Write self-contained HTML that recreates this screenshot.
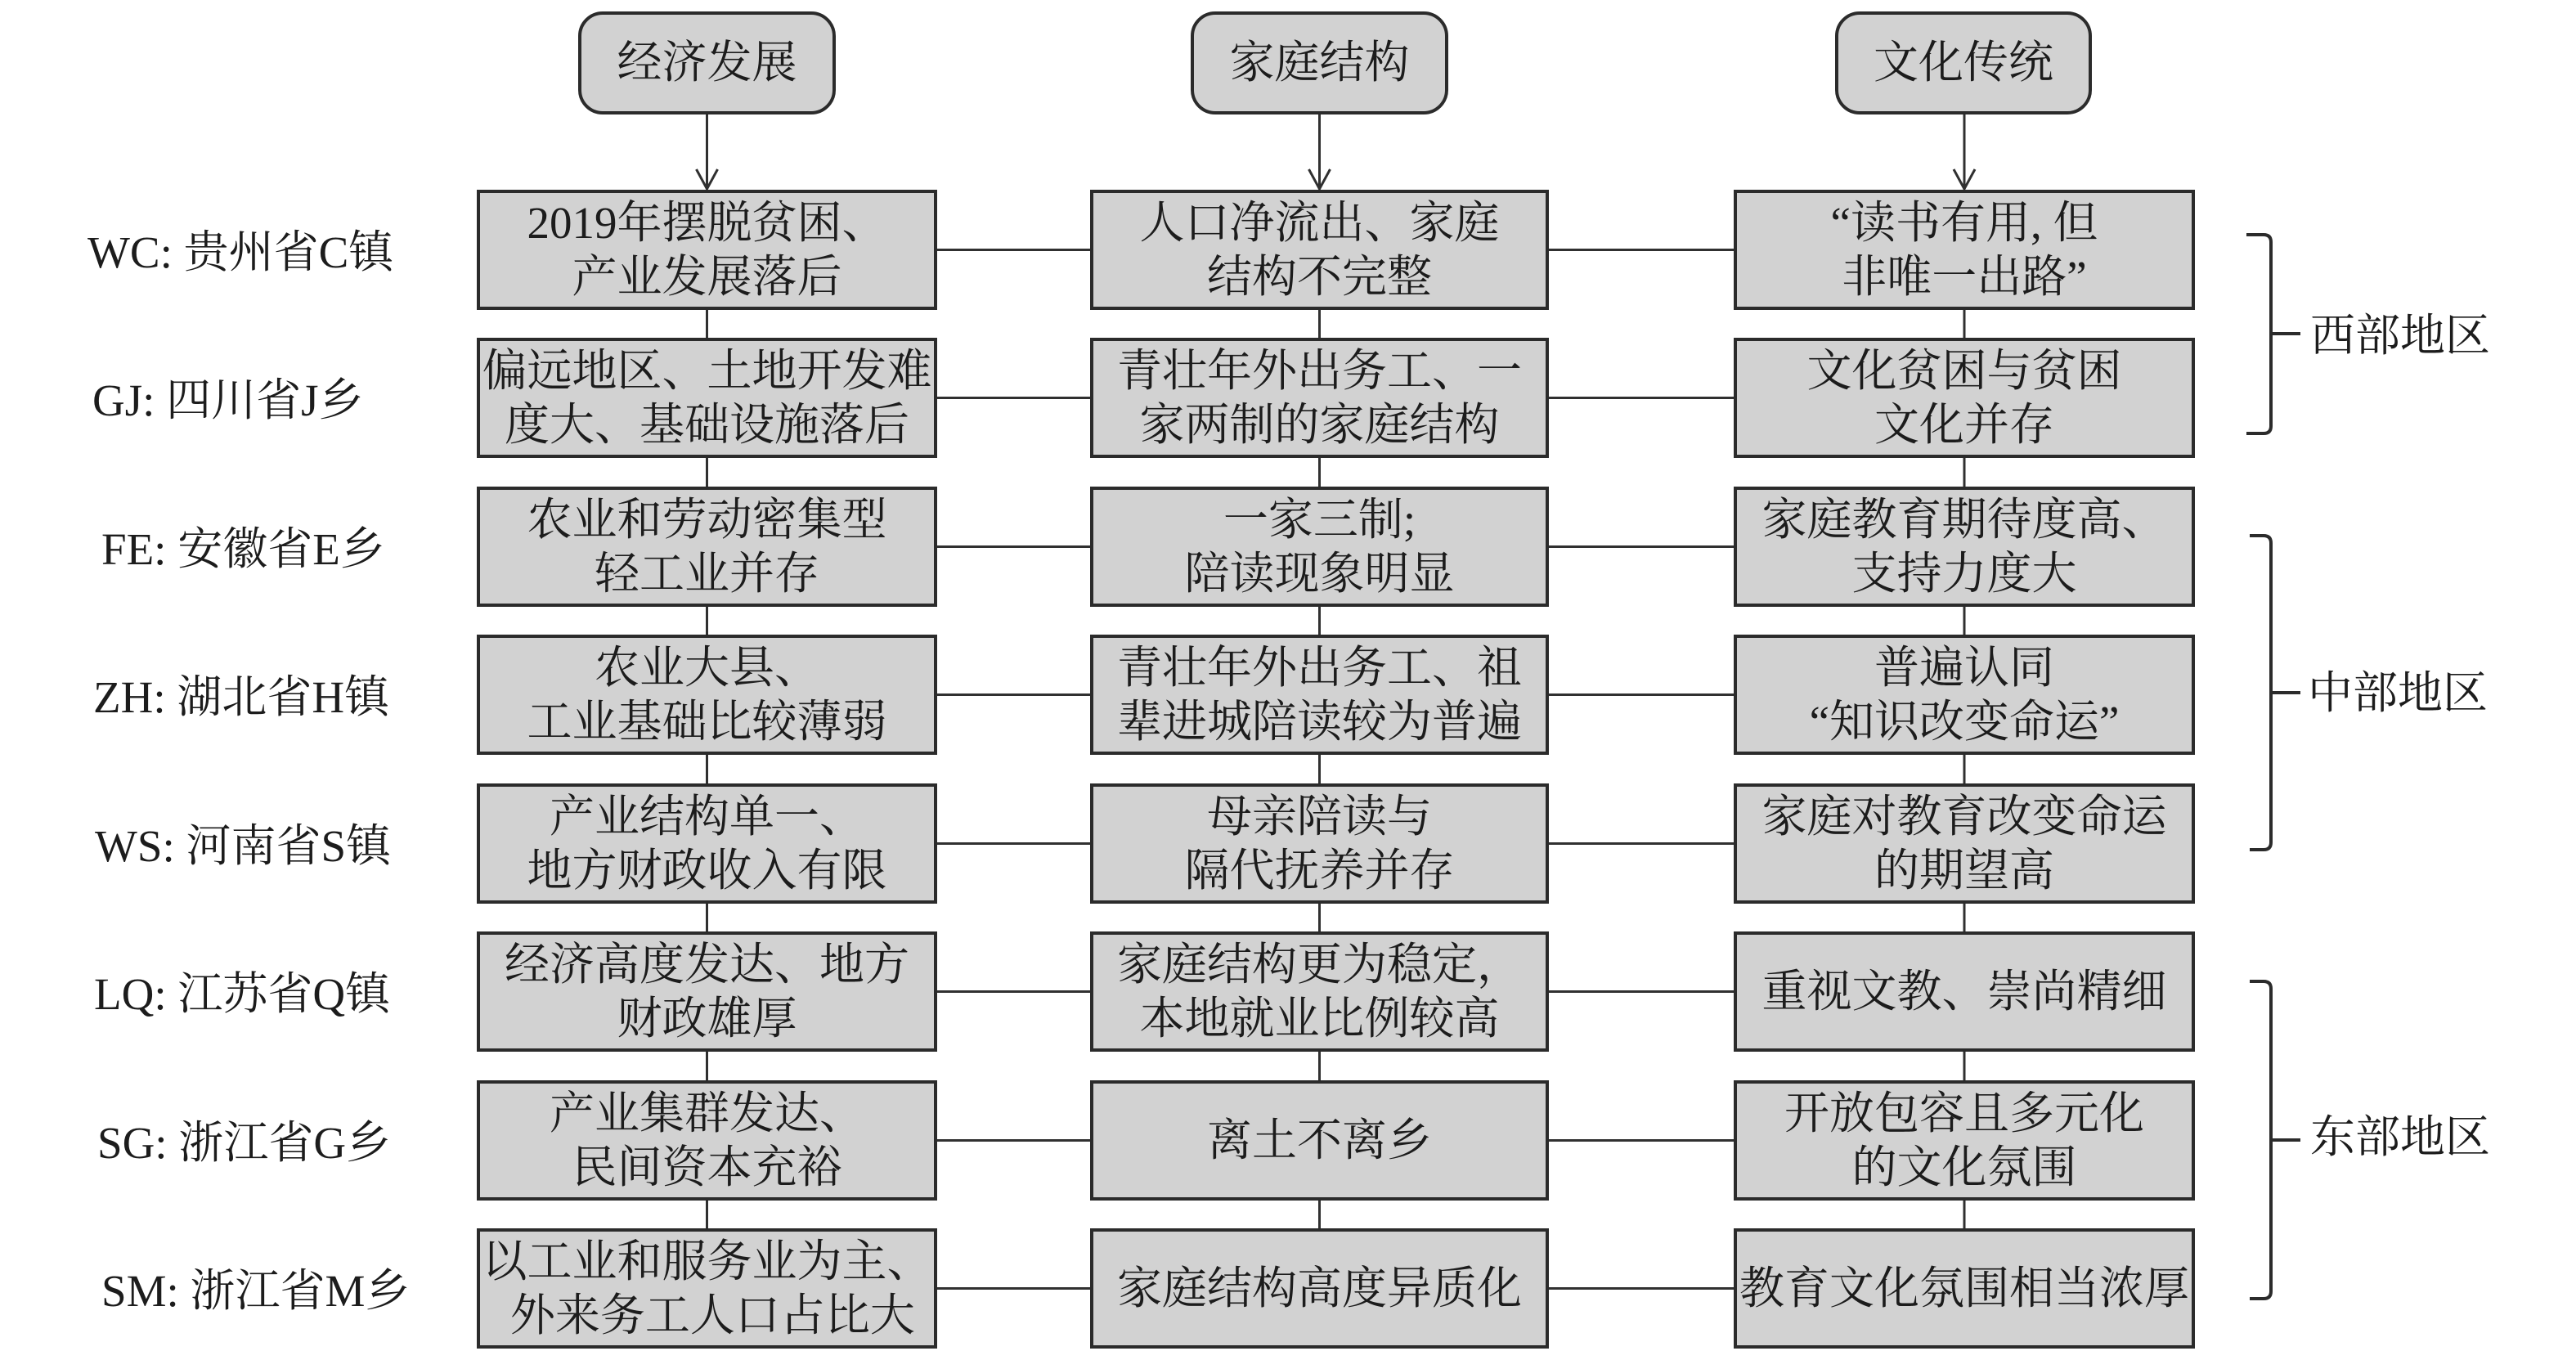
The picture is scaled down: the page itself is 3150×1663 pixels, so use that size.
<!DOCTYPE html>
<html>
<head>
<meta charset="utf-8">
<style>
  html, body { margin:0; padding:0; background:#ffffff; }
  body { width:3150px; height:1663px; position:relative; overflow:hidden;
         font-family:"Liberation Serif","Noto Serif CJK SC",serif; color:#1c1c1c; }
  svg { position:absolute; left:0; top:0; }
  .box { position:absolute; box-sizing:border-box; border:4px solid #2b2b2b; background:#d2d2d2;
         display:flex; align-items:center; justify-content:center; text-align:center;
         font-size:55px; line-height:66px; white-space:nowrap; padding:0; }
  .hdr { border-radius:30px; }
  .lbl { position:absolute; font-size:55px; line-height:66px; height:66px; white-space:nowrap; }
</style>
</head>
<body>
<svg width="3150" height="1663" viewBox="0 0 3150 1663">
  <g stroke="#303030" stroke-width="3" fill="none">
    <!-- header arrows -->
    <line x1="864.5" y1="140" x2="864.5" y2="231"/>
    <line x1="1613.5" y1="140" x2="1613.5" y2="231"/>
    <line x1="2402" y1="140" x2="2402" y2="231"/>
    <polyline points="851.5,207 864.5,231 877.5,207"/>
    <polyline points="1600.5,207 1613.5,231 1626.5,207"/>
    <polyline points="2389,207 2402,231 2415,207"/>
    <!-- vertical connectors -->
    <line x1="864.5" y1="379" x2="864.5" y2="1502"/>
    <line x1="1613.5" y1="379" x2="1613.5" y2="1502"/>
    <line x1="2402" y1="379" x2="2402" y2="1502"/>
    <!-- horizontal connectors (row centers) -->
    <line x1="1146" y1="305.5" x2="2120" y2="305.5"/>
    <line x1="1146" y1="486.5" x2="2120" y2="486.5"/>
    <line x1="1146" y1="668.5" x2="2120" y2="668.5"/>
    <line x1="1146" y1="849.5" x2="2120" y2="849.5"/>
    <line x1="1146" y1="1031.5" x2="2120" y2="1031.5"/>
    <line x1="1146" y1="1212.5" x2="2120" y2="1212.5"/>
    <line x1="1146" y1="1394.5" x2="2120" y2="1394.5"/>
    <line x1="1146" y1="1575.5" x2="2120" y2="1575.5"/>
  </g>
  <g stroke="#2b2b2b" stroke-width="4" fill="none">
    <!-- west bracket -->
    <path d="M2747,287 L2768,287 Q2777,287 2777,296 L2777,521 Q2777,530 2768,530 L2747,530"/>
    <line x1="2777" y1="408" x2="2813" y2="408"/>
    <!-- middle bracket -->
    <path d="M2751,655 L2768,655 Q2777,655 2777,664 L2777,1030 Q2777,1039 2768,1039 L2751,1039"/>
    <line x1="2777" y1="847" x2="2813" y2="847"/>
    <!-- east bracket -->
    <path d="M2751,1200 L2768,1200 Q2777,1200 2777,1209 L2777,1579 Q2777,1588 2768,1588 L2751,1588"/>
    <line x1="2777" y1="1394" x2="2813" y2="1394"/>
  </g>
</svg>

<!-- headers -->
<div class="box hdr" style="left:707px;top:14px;width:315px;height:126px;">经济发展</div>
<div class="box hdr" style="left:1456px;top:14px;width:315px;height:126px;">家庭结构</div>
<div class="box hdr" style="left:2244px;top:14px;width:314px;height:126px;">文化传统</div>

<!-- column 1 -->
<div class="box" style="left:583px;top:232px;width:563px;height:147px;">2019年摆脱贫困、<br>产业发展落后</div>
<div class="box" style="left:583px;top:413px;width:563px;height:147px;">偏远地区、土地开发难<br>度大、基础设施落后</div>
<div class="box" style="left:583px;top:595px;width:563px;height:147px;">农业和劳动密集型<br>轻工业并存</div>
<div class="box" style="left:583px;top:776px;width:563px;height:147px;">农业大县、<br>工业基础比较薄弱</div>
<div class="box" style="left:583px;top:958px;width:563px;height:147px;">产业结构单一、<br>地方财政收入有限</div>
<div class="box" style="left:583px;top:1139px;width:563px;height:147px;">经济高度发达、地方<br>财政雄厚</div>
<div class="box" style="left:583px;top:1321px;width:563px;height:147px;">产业集群发达、<br>民间资本充裕</div>
<div class="box" style="left:583px;top:1502px;width:563px;height:147px;">以工业和服务业为主、<br>&nbsp;外来务工人口占比大</div>

<!-- column 2 -->
<div class="box" style="left:1333px;top:232px;width:561px;height:147px;">人口净流出、家庭<br>结构不完整</div>
<div class="box" style="left:1333px;top:413px;width:561px;height:147px;">青壮年外出务工、一<br>家两制的家庭结构</div>
<div class="box" style="left:1333px;top:595px;width:561px;height:147px;">一家三制;<br>陪读现象明显</div>
<div class="box" style="left:1333px;top:776px;width:561px;height:147px;">青壮年外出务工、祖<br>辈进城陪读较为普遍</div>
<div class="box" style="left:1333px;top:958px;width:561px;height:147px;">母亲陪读与<br>隔代抚养并存</div>
<div class="box" style="left:1333px;top:1139px;width:561px;height:147px;">家庭结构更为稳定，<br>本地就业比例较高</div>
<div class="box" style="left:1333px;top:1321px;width:561px;height:147px;">离土不离乡</div>
<div class="box" style="left:1333px;top:1502px;width:561px;height:147px;">家庭结构高度异质化</div>

<!-- column 3 -->
<div class="box" style="left:2120px;top:232px;width:564px;height:147px;">“读书有用, 但<br>非唯一出路”</div>
<div class="box" style="left:2120px;top:413px;width:564px;height:147px;">文化贫困与贫困<br>文化并存</div>
<div class="box" style="left:2120px;top:595px;width:564px;height:147px;">家庭教育期待度高、<br>支持力度大</div>
<div class="box" style="left:2120px;top:776px;width:564px;height:147px;">普遍认同<br>“知识改变命运”</div>
<div class="box" style="left:2120px;top:958px;width:564px;height:147px;">家庭对教育改变命运<br>的期望高</div>
<div class="box" style="left:2120px;top:1139px;width:564px;height:147px;">重视文教、崇尚精细</div>
<div class="box" style="left:2120px;top:1321px;width:564px;height:147px;">开放包容且多元化<br>的文化氛围</div>
<div class="box" style="left:2120px;top:1502px;width:564px;height:147px;">教育文化氛围相当浓厚</div>

<!-- row labels -->
<div class="lbl" style="left:107px;top:276px;">WC: 贵州省C镇</div>
<div class="lbl" style="left:113px;top:457px;">GJ: 四川省J乡</div>
<div class="lbl" style="left:124px;top:639px;">FE: 安徽省E乡</div>
<div class="lbl" style="left:114px;top:820px;">ZH: 湖北省H镇</div>
<div class="lbl" style="left:116px;top:1002px;">WS: 河南省S镇</div>
<div class="lbl" style="left:115px;top:1183px;">LQ: 江苏省Q镇</div>
<div class="lbl" style="left:119px;top:1365px;">SG: 浙江省G乡</div>
<div class="lbl" style="left:124px;top:1546px;">SM: 浙江省M乡</div>

<!-- region labels -->
<div class="lbl" style="left:2825px;top:378px;">西部地区</div>
<div class="lbl" style="left:2822px;top:815px;">中部地区</div>
<div class="lbl" style="left:2825px;top:1358px;">东部地区</div>
</body>
</html>
